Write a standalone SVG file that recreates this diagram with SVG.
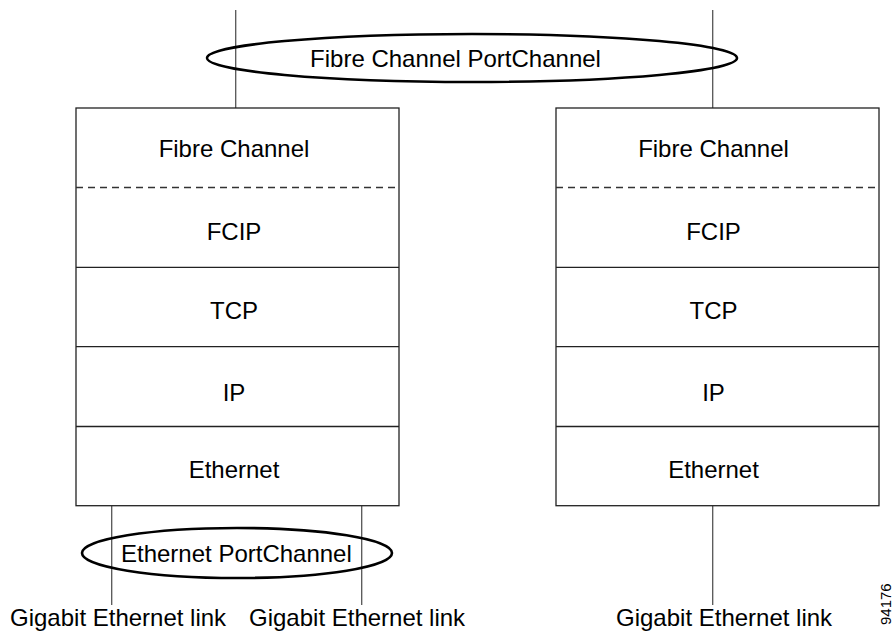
<svg xmlns="http://www.w3.org/2000/svg" width="894" height="631" viewBox="0 0 894 631">
<style>
text{font-family:"Liberation Sans",Arial,sans-serif;font-size:24px;fill:#000}
.c{text-anchor:middle}
.box{fill:#fff;stroke:#222;stroke-width:1.3}
.div{stroke:#222;stroke-width:1.3}
.dash{stroke:#333;stroke-width:1.3;stroke-dasharray:7 5}
.ln{stroke:#555;stroke-width:1.3;fill:none}
.ell{fill:none;stroke:#000;stroke-width:2.6}
</style>
<rect width="894" height="631" fill="#fff"/>
<g id="connectors">
<line class="ln" x1="235.7" y1="10" x2="235.7" y2="108"/>
<line class="ln" x1="712.7" y1="10" x2="712.7" y2="108"/>
<line class="ln" x1="111.7" y1="505.7" x2="111.7" y2="605"/>
<line class="ln" x1="361.7" y1="505.7" x2="361.7" y2="605"/>
<line class="ln" x1="712.7" y1="505.7" x2="712.7" y2="605"/>
</g>
<g id="fc-portchannel">
<ellipse class="ell" cx="472" cy="58" rx="265" ry="24"/>
<text class="c" x="455.5" y="67">Fibre Channel PortChannel</text>
</g>
<g id="left-stack">
<rect class="box" x="76" y="108" width="323" height="397.7"/>
<line class="dash" x1="76" y1="187.5" x2="399" y2="187.5"/>
<line class="div" x1="76" y1="267.3" x2="399" y2="267.3"/>
<line class="div" x1="76" y1="346.7" x2="399" y2="346.7"/>
<line class="div" x1="76" y1="426.5" x2="399" y2="426.5"/>
<text class="c" x="234" y="157">Fibre Channel</text>
<text class="c" x="234" y="239.5">FCIP</text>
<text class="c" x="234" y="318.5">TCP</text>
<text class="c" x="234" y="400.5">IP</text>
<text class="c" x="234" y="477.7">Ethernet</text>
</g>
<g id="right-stack">
<rect class="box" x="556" y="108" width="323" height="397.7"/>
<line class="dash" x1="556" y1="187.5" x2="879" y2="187.5"/>
<line class="div" x1="556" y1="267.3" x2="879" y2="267.3"/>
<line class="div" x1="556" y1="346.7" x2="879" y2="346.7"/>
<line class="div" x1="556" y1="426.5" x2="879" y2="426.5"/>
<text class="c" x="713.5" y="157">Fibre Channel</text>
<text class="c" x="713.5" y="239.5">FCIP</text>
<text class="c" x="713.5" y="318.5">TCP</text>
<text class="c" x="713.5" y="400.5">IP</text>
<text class="c" x="713.5" y="477.7">Ethernet</text>
</g>
<g id="eth-portchannel">
<ellipse class="ell" cx="237" cy="553" rx="155" ry="25"/>
<text class="c" x="236.4" y="561.7">Ethernet PortChannel</text>
</g>
<g id="links">
<text x="10" y="625.5">Gigabit Ethernet link</text>
<text x="249" y="625.5">Gigabit Ethernet link</text>
<text x="616" y="625.5">Gigabit Ethernet link</text>
</g>
<text x="-625" y="890.5" transform="rotate(-90)" style="font-size:15px">94176</text>
</svg>
